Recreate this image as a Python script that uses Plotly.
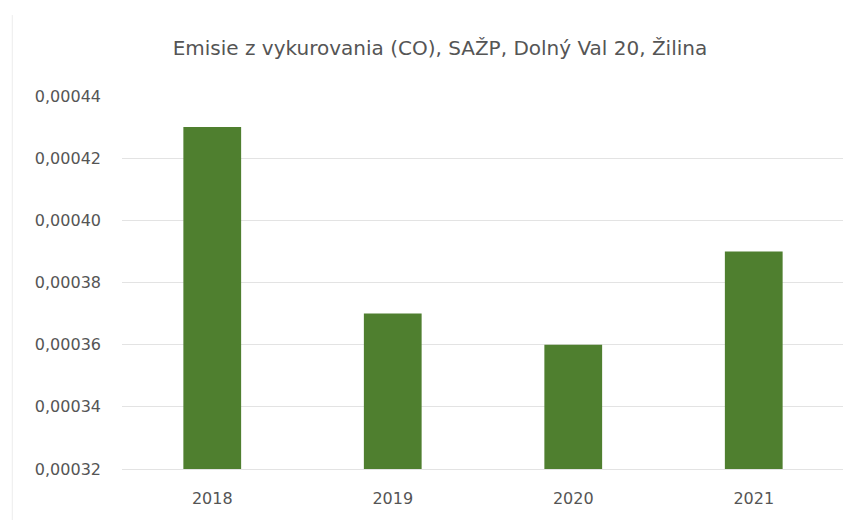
import plotly.graph_objects as go

years = ["2018", "2019", "2020", "2021"]
values = [0.00043, 0.00037, 0.00036, 0.00039]
tick_vals = [0.00032, 0.00034, 0.00036, 0.00038, 0.00040, 0.00042, 0.00044]
tick_text = ["0,00032", "0,00034", "0,00036", "0,00038", "0,00040", "0,00042", "0,00044"]

FONT = "DejaVu Sans"
GRAY = "#555555"

fig = go.Figure(go.Bar(x=years, y=values, marker=dict(color="#4f7f2f", line=dict(width=0)), width=0.32))

fig.update_layout(
    width=851, height=520,
    paper_bgcolor="white", plot_bgcolor="white",
    margin=dict(l=114, r=15, t=88, b=59),
    title=dict(text="Emisie z vykurovania (CO), SAŽP, Dolný Val 20, Žilina",
               x=0.5076, xanchor="center", y=0.923, yanchor="middle",
               font=dict(family=FONT, size=20, color=GRAY)),
    font=dict(family=FONT, color=GRAY),
    showlegend=False,
    bargap=0.68,
)
fig.update_yaxes(range=[0.00032, 0.00044], tickvals=tick_vals, ticktext=tick_text,
                 showgrid=True, gridcolor="#e3e3e3", gridwidth=1, zeroline=False,
                 showline=False, ticks="", tickfont=dict(size=16, color=GRAY),
                 ticklabelstandoff=20)
fig.update_xaxes(showgrid=False, showline=True, linecolor="#e3e3e3", ticks="",
                 tickfont=dict(size=16, color=GRAY), ticklabelstandoff=15)
fig.add_shape(type="line", xref="paper", yref="paper", x0=-0.152, x1=-0.152, y0=-0.137, y1=1.217,
              line=dict(color="#ececec", width=1))

fig.write_html("out.html")
